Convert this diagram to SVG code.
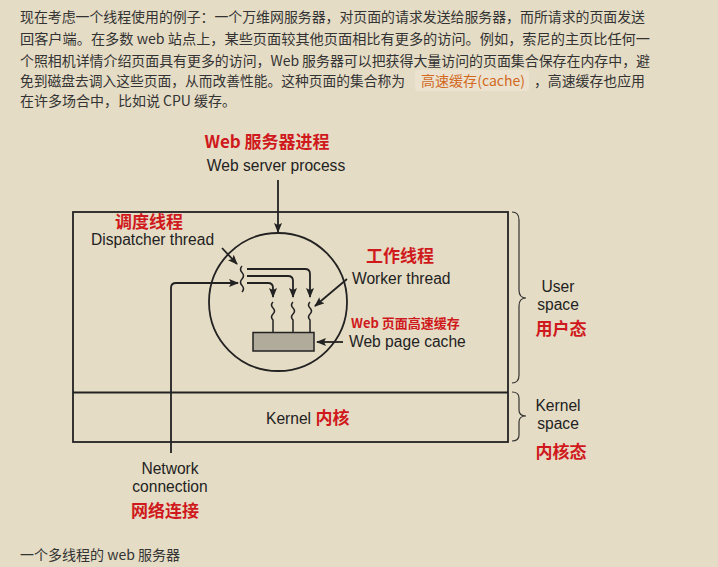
<svg xmlns="http://www.w3.org/2000/svg" width="718" height="567" viewBox="0 0 718 567">
<defs>
<marker id="ah" markerUnits="userSpaceOnUse" markerWidth="10" markerHeight="8" refX="9" refY="4" orient="auto">
<path d="M0,0 L10,4 L0,8 L2,4 Z" fill="#222"/>
</marker>
<style>
.p{font-family:"Noto Sans CJK SC","Noto Sans",sans-serif;font-size:14px;fill:#333}
.en{font-family:"Liberation Sans",Arial,sans-serif;font-size:15.6px;fill:#222}
.cn{font-family:"Noto Sans CJK SC",sans-serif;font-size:17px;font-weight:bold;fill:#d0191c}
.ln{fill:none;stroke:#222;stroke-width:1.8}
.ar{fill:none;stroke:#222;stroke-width:1.8;marker-end:url(#ah)}
.sq{fill:none;stroke:#222;stroke-width:1.5}
.br{fill:none;stroke:#333;stroke-width:1.2}
</style>
</defs>
<rect width="718" height="567" fill="#e5dcc5"/>
<g id="paragraph">
<text class="p" x="20" y="22" textLength="625" lengthAdjust="spacingAndGlyphs">现在考虑一个线程使用的例子：一个万维网服务器，对页面的请求发送给服务器，而所请求的页面发送</text>
<text class="p" x="20" y="44" textLength="630" lengthAdjust="spacingAndGlyphs">回客户端。在多数 web 站点上，某些页面较其他页面相比有更多的访问。例如，索尼的主页比任何一</text>
<text class="p" x="20" y="66" textLength="630" lengthAdjust="spacingAndGlyphs">个照相机详情介绍页面具有更多的访问，Web 服务器可以把获得大量访问的页面集合保存在内存中，避</text>
<text class="p" x="20" y="86" textLength="385" lengthAdjust="spacingAndGlyphs">免到磁盘去调入这些页面，从而改善性能。这种页面的集合称为</text>
<rect x="415" y="70" width="114" height="21" rx="3" fill="#ebe3cf"/>
<text class="p" x="421" y="86" style="fill:#d2691e" textLength="104" lengthAdjust="spacingAndGlyphs">高速缓存(cache)</text>
<text class="p" x="534" y="86" textLength="111" lengthAdjust="spacingAndGlyphs">，高速缓存也应用</text>
<text class="p" x="20" y="106" textLength="216" lengthAdjust="spacingAndGlyphs">在许多场合中，比如说 CPU 缓存。</text>
</g>
<g id="system-box">
<rect class="ln" x="73" y="212" width="435" height="230"/>
<line class="ln" x1="73" y1="392.5" x2="508" y2="392.5"/>
</g>
<g id="kernel">
<text class="en" x="266" y="424">Kernel <tspan style="font-family:'Noto Sans CJK SC',sans-serif;font-size:17px;font-weight:bold;fill:#d0191c">内核</tspan></text>
</g>
<g id="user-space-label">
<path class="br" d="M512,212 Q519,212 519,220 V290 Q519,298 526,298 Q519,298 519,306 V375 Q519,383 512,383"/>
<text class="en" x="558" y="292" text-anchor="middle">User</text>
<text class="en" x="558" y="310" text-anchor="middle">space</text>
<text class="cn" x="561" y="335" text-anchor="middle">用户态</text>
</g>
<g id="kernel-space-label">
<path class="br" d="M512,392 Q519,392 519,398 V410 Q519,416 526,416 Q519,416 519,422 V435 Q519,441 512,441"/>
<text class="en" x="558" y="411" text-anchor="middle">Kernel</text>
<text class="en" x="558" y="429" text-anchor="middle">space</text>
<text class="cn" x="561" y="458" text-anchor="middle">内核态</text>
</g>
<g id="web-server-process">
<circle class="ln" cx="278" cy="302" r="69"/>
<text class="cn" x="267" y="148" text-anchor="middle">Web 服务器进程</text>
<text class="en" x="276" y="171" text-anchor="middle">Web server process</text>
</g>
<g id="dispatcher-thread">
<path class="sq" d="M242,266 q-3,3.25 0,6.5 q3,3.25 0,6.5 q-3,3.25 0,6.5 q3,3.25 0,6.5"/>
<text class="cn" x="149" y="228" text-anchor="middle">调度线程</text>
<text class="en" x="91" y="245">Dispatcher thread</text>
</g>
<g id="worker-threads">
<path class="sq" d="M273,302 q-3,3 0,6 q3,3 0,6 q-3,3 0,6 V332"/>
<path class="sq" d="M293,302 q-3,3 0,6 q3,3 0,6 q-3,3 0,6 V332"/>
<path class="sq" d="M310,302 q-3,3 0,6 q3,3 0,6 q-3,3 0,6 V332"/>
<text class="cn" x="366" y="262">工作线程</text>
<text class="en" x="352" y="284">Worker thread</text>
</g>
<g id="web-page-cache">
<rect x="253" y="332.5" width="61" height="18.5" fill="#b0ab9b" stroke="#222" stroke-width="1.5"/>
<text class="cn" x="351" y="328" style="font-size:13px">Web 页面高速缓存</text>
<text class="en" x="349" y="347">Web page cache</text>
</g>
<g id="network-connection">
<text class="en" x="170" y="474" text-anchor="middle">Network</text>
<text class="en" x="170" y="492" text-anchor="middle">connection</text>
<text class="cn" x="165" y="517" text-anchor="middle">网络连接</text>
</g>
<g id="connectors">
<line class="ar" x1="278" y1="180" x2="278" y2="232"/>
<line class="ar" x1="222" y1="248" x2="237" y2="264"/>
<path class="ar" d="M171,453 V288 Q171,283 176,283 H238"/>
<path class="ar" d="M247,269 H305 Q310,269 310,274 V297"/>
<path class="ar" d="M247,276 H288 Q293,276 293,281 V297"/>
<path class="ar" d="M247,283 H268 Q273,283 273,288 V297"/>
<line class="ar" x1="347" y1="279" x2="315" y2="306"/>
<line class="ar" x1="343" y1="342" x2="317" y2="342"/>
</g>
<g id="caption">
<text class="p" x="20" y="560" textLength="160" lengthAdjust="spacingAndGlyphs">一个多线程的 web 服务器</text>
</g>
</svg>
